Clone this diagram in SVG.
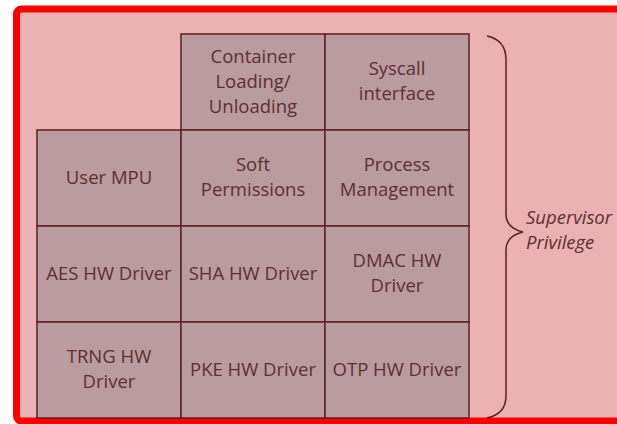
<svg xmlns="http://www.w3.org/2000/svg" width="617" height="424" viewBox="0 0 617 424">
  <style>
    .cell { fill: #B99BA0; stroke: #5E1F22; stroke-width: 1.5; }
    .label { font-family: "Open Sans", "Liberation Sans", sans-serif; font-size: 18.5px; fill: #5E2F30; text-anchor: middle; }
    .note { font-family: "Open Sans", "Liberation Sans", sans-serif; font-size: 18.5px; font-style: italic; fill: #5E2F30; }
  </style>
  <rect width="617" height="424" fill="#ffffff"/>
  <!-- privilege domain frame -->
  <rect x="16.5" y="9" width="640" height="412" rx="5" fill="#EAB2B2" stroke="#FF0000" stroke-width="7"/>

  <g id="container-loading">
    <rect class="cell" x="181" y="34" width="144" height="96"/>
    <text class="label" x="253" y="63">Container</text>
    <text class="label" x="253" y="88">Loading/</text>
    <text class="label" x="253" y="113">Unloading</text>
  </g>
  <g id="syscall-interface">
    <rect class="cell" x="325" y="34" width="144" height="96"/>
    <text class="label" x="397" y="75">Syscall</text>
    <text class="label" x="397" y="100">interface</text>
  </g>
  <g id="user-mpu">
    <rect class="cell" x="37" y="130" width="144" height="96"/>
    <text class="label" x="109" y="184">User MPU</text>
  </g>
  <g id="soft-permissions">
    <rect class="cell" x="181" y="130" width="144" height="96"/>
    <text class="label" x="253" y="171">Soft</text>
    <text class="label" x="253" y="196">Permissions</text>
  </g>
  <g id="process-management">
    <rect class="cell" x="325" y="130" width="144" height="96"/>
    <text class="label" x="397" y="171">Process</text>
    <text class="label" x="397" y="196">Management</text>
  </g>
  <g id="aes-driver">
    <rect class="cell" x="37" y="226" width="144" height="96"/>
    <text class="label" x="109" y="280">AES HW Driver</text>
  </g>
  <g id="sha-driver">
    <rect class="cell" x="181" y="226" width="144" height="96"/>
    <text class="label" x="253" y="280">SHA HW Driver</text>
  </g>
  <g id="dmac-driver">
    <rect class="cell" x="325" y="226" width="144" height="96"/>
    <text class="label" x="397" y="267">DMAC HW</text>
    <text class="label" x="397" y="292">Driver</text>
  </g>
  <g id="trng-driver">
    <rect class="cell" x="37" y="322" width="144" height="96"/>
    <text class="label" x="109" y="363">TRNG HW</text>
    <text class="label" x="109" y="388">Driver</text>
  </g>
  <g id="pke-driver">
    <rect class="cell" x="181" y="322" width="144" height="96"/>
    <text class="label" x="253" y="376">PKE HW Driver</text>
  </g>
  <g id="otp-driver">
    <rect class="cell" x="325" y="322" width="144" height="96"/>
    <text class="label" x="397" y="376">OTP HW Driver</text>
  </g>

  <g id="supervisor-brace">
    <path d="M487,36 Q506,40 506,60 L506,214 Q506,228 523,232 Q506,236 506,250 L506,396 Q506,414 487,418" fill="none" stroke="#5E1F22" stroke-width="1.5"/>
    <text class="note" x="526" y="224">Supervisor</text>
    <text class="note" x="526" y="249">Privilege</text>
  </g>
</svg>
